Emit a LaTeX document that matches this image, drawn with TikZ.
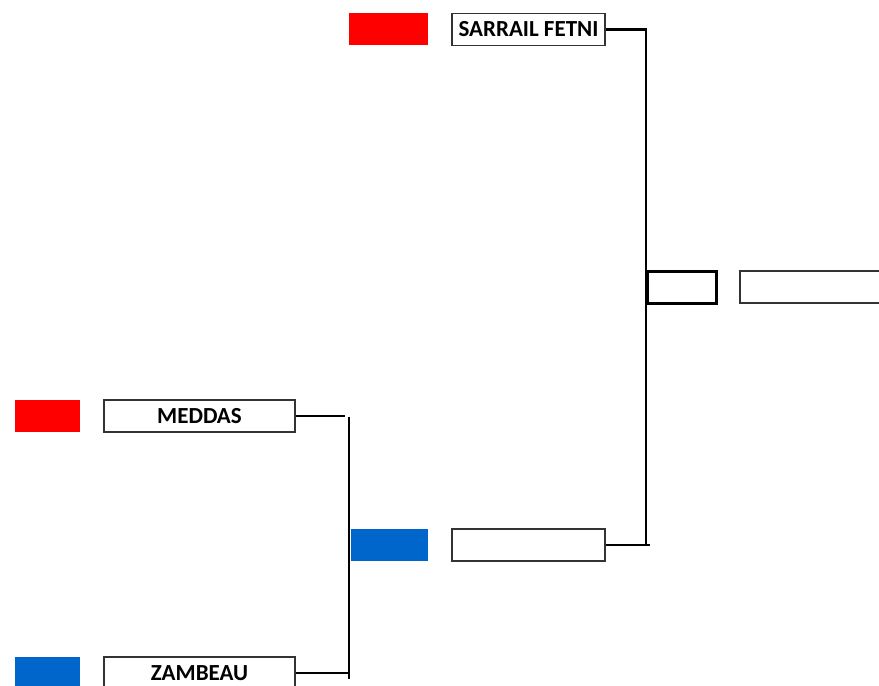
\documentclass[tikz,border=0pt]{standalone}
\usepackage{xcolor}
\usepackage{fontspec}
\setmainfont{Carlito}
\usepackage{tikz}
\definecolor{flagred}{RGB}{255,0,0}
\definecolor{flagblue}{RGB}{0,102,204}

\begin{document}
\begin{tikzpicture}[x=1pt, y=-1pt,
    flag/.style={fill=#1, draw=none, minimum height=32pt, inner sep=0pt},
    team/.style={draw=black!80, line width=1.5pt, fill=white, minimum height=32pt,
      inner sep=0pt, font=\fontsize{23}{27}\selectfont\bfseries},
    wire/.style={line width=2.5pt}]
  \useasboundingbox (0,0) rectangle (879,686);

  % top half
  \node[flag=flagred, minimum width=79pt] (sf) at (388.5,29) {};
  \node[team, minimum width=153pt] (s) at (528.5,29.5) {SARRAIL FETNI};

  % bottom half
  \node[flag=flagred, minimum width=65pt] (mf) at (47.5,416) {};
  \node[team, minimum width=191pt] (m) at (199.5,416) {MEDDAS};
  \node[flag=flagblue, minimum width=65pt] (zf) at (47.5,673) {};
  \node[team, minimum width=191pt] (z) at (199.5,673) {ZAMBEAU};

  \node[flag=flagblue, minimum width=77pt] (wf) at (389.5,545) {};
  \node[team, minimum width=153pt] (w) at (528.5,545) {};

  % final
  \node[team, line width=3pt, draw=black, minimum width=69pt] (f) at (681.5,287) {};
  \node[team, minimum width=190pt] (c) at (835,287) {};

  \coordinate (mr) at (345,416);
  \coordinate (lt) at (349,417);
  \coordinate (lb) at (349,679);
  \coordinate (zr) at (349,673);
  \coordinate (rt) at (646,29.5);
  \coordinate (rb) at (646,546);
  \coordinate (wr) at (650,545);

  \draw[wire] (m.east)--(mr);
  \draw[wire] (lt)--(lb);
  \draw[wire] (z.east)--(zr);
  \draw[wire] (s.east)--(rt)--(rb);
  \draw[wire] (w.east)--(wr);
\end{tikzpicture}
\end{document}
